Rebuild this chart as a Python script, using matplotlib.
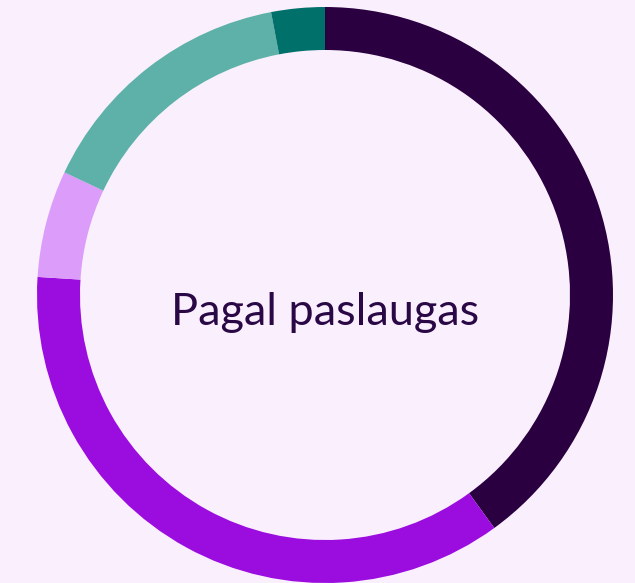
import matplotlib
matplotlib.use("Agg")
import matplotlib.pyplot as plt

# Dalys pagal paslaugas (%)
labels = ["A", "B", "C", "D", "E"]
values = [40, 36, 6, 15, 3]
colors = ["#2A0040", "#9B0CDF", "#DC9CF9", "#5DB1A8", "#00706A"]
center_label = "Pagal paslaugas"

BG = "#FAF0FD"
W, H = 635, 583

fig = plt.figure(figsize=(W / 100, H / 100), dpi=100, facecolor=BG)
ax = fig.add_axes([0, 0, 1, 1])
ax.set_facecolor(BG)

ax.pie(
    values, colors=colors, startangle=90, counterclock=False,
    center=(325, 288), radius=288, frame=True,
    wedgeprops=dict(width=43, linewidth=0),
)
ax.set_xlim(0, W)
ax.set_ylim(0, H)
ax.set_aspect("equal")
ax.axis("off")

ax.text(325, 258, center_label, ha="center", va="baseline",
        fontsize=32.5, color="#2A0845", family="Lato")

fig.savefig("out.png", dpi=100, facecolor=BG)
